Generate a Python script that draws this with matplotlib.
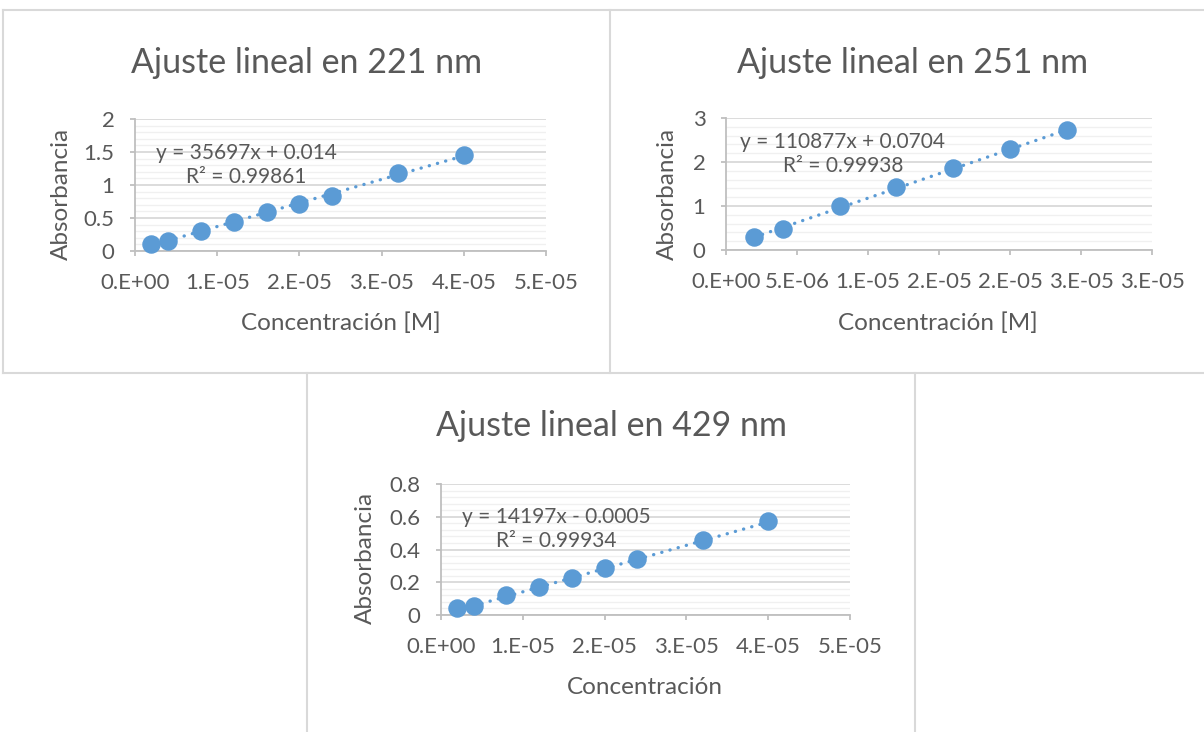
import matplotlib
matplotlib.use("Agg")
import matplotlib.pyplot as plt
import numpy as np
from matplotlib.lines import Line2D
from matplotlib.ticker import MultipleLocator, FixedLocator, FixedFormatter

plt.rcParams['font.family'] = ['Lato', 'DejaVu Sans']

# ---------------- data ----------------
titles = ["Ajuste lineal en 221 nm", "Ajuste lineal en 251 nm", "Ajuste lineal en 429 nm"]
xlabels = ["Concentración [M]", "Concentración [M]", "Concentración"]
ylabel = "Absorbancia"

conc_221 = [2e-6, 4e-6, 8e-6, 1.2e-5, 1.6e-5, 2.0e-5, 2.4e-5, 3.2e-5, 4.0e-5]
abs_221 = [0.11, 0.155, 0.30, 0.44, 0.59, 0.71, 0.84, 1.18, 1.46]
eq_221 = ["y = 35697x + 0.014", "R² = 0.99861"]
fit_221 = (35697, 0.014)

conc_251 = [2e-6, 4e-6, 8e-6, 1.2e-5, 1.6e-5, 2.0e-5, 2.4e-5]
abs_251 = [0.29, 0.48, 0.99, 1.43, 1.87, 2.29, 2.72]
eq_251 = ["y = 110877x + 0.0704", "R² = 0.99938"]
fit_251 = (110877, 0.0704)

conc_429 = [2e-6, 4e-6, 8e-6, 1.2e-5, 1.6e-5, 2.0e-5, 2.4e-5, 3.2e-5, 4.0e-5]
abs_429 = [0.04, 0.055, 0.12, 0.17, 0.225, 0.285, 0.34, 0.46, 0.575]
eq_429 = ["y = 14197x - 0.0005", "R² = 0.99934"]
fit_429 = (14197, -0.0005)

xticks_221 = [0, 1e-5, 2e-5, 3e-5, 4e-5, 5e-5]
xticklabels_221 = ["0.E+00", "1.E-05", "2.E-05", "3.E-05", "4.E-05", "5.E-05"]
yticks_221 = [0, 0.5, 1, 1.5, 2]
yticklabels_221 = ["0", "0.5", "1", "1.5", "2"]

xticks_251 = [0, 5e-6, 1e-5, 1.5e-5, 2e-5, 2.5e-5, 3e-5]
xticklabels_251 = ["0.E+00", "5.E-06", "1.E-05", "2.E-05", "2.E-05", "3.E-05", "3.E-05"]
yticks_251 = [0, 1, 2, 3]
yticklabels_251 = ["0", "1", "2", "3"]

xticks_429 = [0, 1e-5, 2e-5, 3e-5, 4e-5, 5e-5]
xticklabels_429 = ["0.E+00", "1.E-05", "2.E-05", "3.E-05", "4.E-05", "5.E-05"]
yticks_429 = [0, 0.2, 0.4, 0.6, 0.8]
yticklabels_429 = ["0", "0.2", "0.4", "0.6", "0.8"]

# ---------------- style ----------------
W, H = 1204, 732
TXT = "#595959"
BLUE = "#5b9bd5"
AXC = "#bfbfbf"
GRID = "#d9d9d9"
MINOR = "#f0f0f0"
BORDER = "#d9d9d9"

fig = plt.figure(figsize=(W / 100, H / 100), dpi=100)
fig.patch.set_facecolor("white")


def px_axes(l, r, t, b):
    return fig.add_axes([l / W, 1 - b / H, (r - l) / W, (b - t) / H])


def fig_line(xs, ys):
    fig.add_artist(Line2D([x / W for x in xs], [1 - y / H for y in ys],
                          color=BORDER, lw=1.5, transform=fig.transFigure))


# panel borders
fig_line([3, 1204], [10, 10])
fig_line([3, 1204], [373, 373])
fig_line([3, 3], [10, 373])
fig_line([610, 610], [10, 373])
fig_line([307, 307], [373, 732])
fig_line([915, 915], [373, 732])

panels = [
    dict(box=(135, 546, 119, 251), x=conc_221, y=abs_221, eq=eq_221, fit=fit_221,
         xt=xticks_221, xtl=xticklabels_221, yt=yticks_221, ytl=yticklabels_221,
         title=titles[0], xl=xlabels[0], title_xy=(307, 63), xl_xy=(341, 323),
         yl_xy=(61, 194), eq_xy=(246, 165)),
    dict(box=(726, 1152, 118, 250), x=conc_251, y=abs_251, eq=eq_251, fit=fit_251,
         xt=xticks_251, xtl=xticklabels_251, yt=yticks_251, ytl=yticklabels_251,
         title=titles[1], xl=xlabels[1], title_xy=(913, 63), xl_xy=(938, 323),
         yl_xy=(667, 194), eq_xy=(843, 154)),
    dict(box=(441, 850, 484, 615), x=conc_429, y=abs_429, eq=eq_429, fit=fit_429,
         xt=xticks_429, xtl=xticklabels_429, yt=yticks_429, ytl=yticklabels_429,
         title=titles[2], xl=xlabels[2], title_xy=(611, 426), xl_xy=(645, 687),
         yl_xy=(365, 558), eq_xy=(556, 529)),
]

for p in panels:
    l, r, t, b = p["box"]
    ax = px_axes(l, r, t, b)
    ax.set_xlim(p["xt"][0], p["xt"][-1])
    ax.set_ylim(p["yt"][0], p["yt"][-1])
    ax.xaxis.set_major_locator(FixedLocator(p["xt"]))
    ax.xaxis.set_major_formatter(FixedFormatter(p["xtl"]))
    ax.yaxis.set_major_locator(FixedLocator(p["yt"]))
    ax.yaxis.set_major_formatter(FixedFormatter(p["ytl"]))
    ystep = p["yt"][1] - p["yt"][0]
    ax.yaxis.set_minor_locator(MultipleLocator(ystep / 5))
    ax.grid(True, axis="y", which="minor", color=MINOR, lw=1.0, zorder=0)
    ax.grid(True, axis="y", which="major", color=GRID, lw=1.3, zorder=0)
    ax.set_axisbelow(True)
    for s in ["top", "right"]:
        ax.spines[s].set_visible(False)
    for s in ["left", "bottom"]:
        ax.spines[s].set_color(AXC)
        ax.spines[s].set_linewidth(1.3)
    ax.tick_params(axis="both", which="major", direction="out", length=3.8,
                   width=1.3, color=AXC, labelcolor=TXT, labelsize=16)
    ax.tick_params(axis="x", pad=12)
    ax.tick_params(axis="y", pad=11)
    ax.tick_params(axis="y", which="minor", length=0)

    # trendline
    xs = np.array([min(p["x"]), max(p["x"])])
    m, c = p["fit"]
    ax.plot(xs, m * xs + c, color=BLUE, lw=2.4,
            linestyle=(0, (0.05, 2.5)), dash_capstyle="round", zorder=2)
    ax.plot(p["x"], p["y"], "o", color=BLUE, markersize=12.3, mec=BLUE, zorder=3,
            clip_on=False)

    tx, ty = p["title_xy"]
    fig.text(tx / W, 1 - ty / H, p["title"], ha="center", va="center",
             fontsize=24.5, color=TXT)
    xx, xy = p["xl_xy"]
    fig.text(xx / W, 1 - xy / H, p["xl"], ha="center", va="center",
             fontsize=17.5, color=TXT)
    yx, yy = p["yl_xy"]
    fig.text(yx / W, 1 - yy / H, ylabel, ha="center", va="center",
             rotation=90, fontsize=17.5, color=TXT)
    ex, ey = p["eq_xy"]
    fig.text(ex / W, 1 - ey / H, p["eq"][0] + "\n" + p["eq"][1], ha="center",
             va="center", fontsize=15, color=TXT, linespacing=1.25)

fig.savefig("out.png", dpi=100, facecolor="white")
